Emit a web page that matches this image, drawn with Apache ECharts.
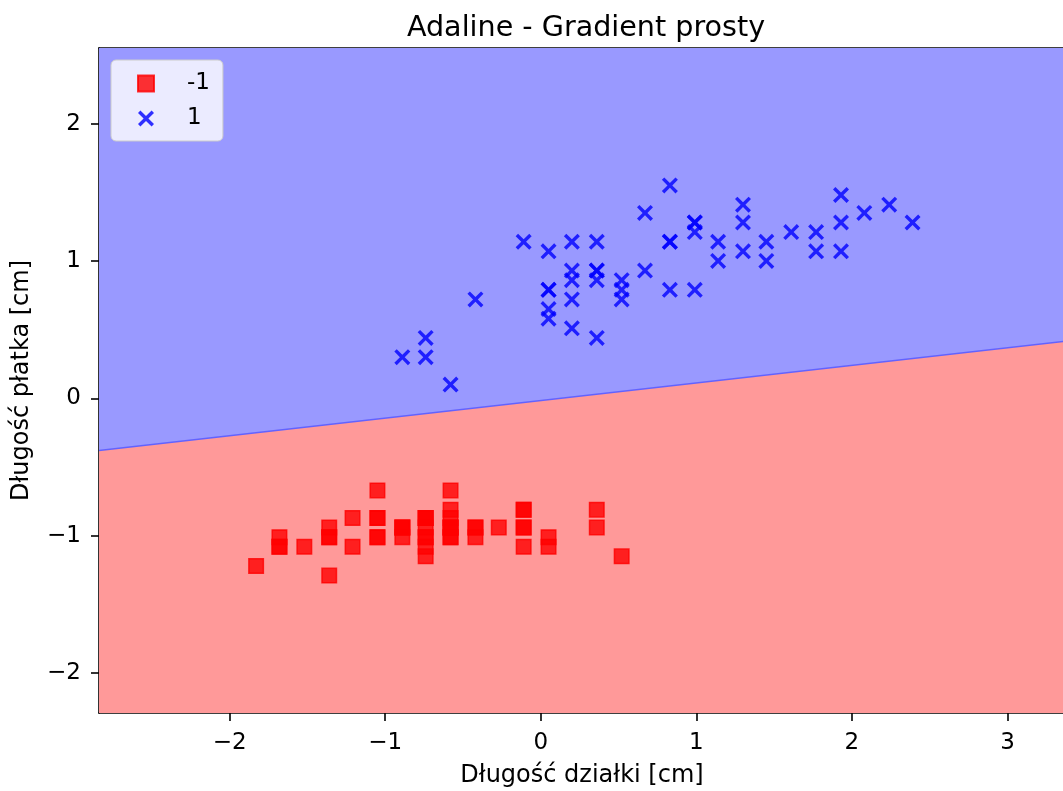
<!DOCTYPE html>
<html>
<head>
<meta charset="utf-8">
<title>Adaline - Gradient prosty</title>
<script src="https://cdn.jsdelivr.net/npm/echarts@6/dist/echarts.min.js"></script>
<style>
  html, body { margin: 0; padding: 0; background: #ffffff; }
  #chart { width: 1063px; height: 791px; }
</style>
</head>
<body>
<div id="chart"></div>
<script>
// Standardized features: sepal length (x) and petal length (y)
const classNeg1X = [-0.58,-0.89,-1.21,-1.36,-0.74,-0.11,-1.36,-0.74,-1.68,-0.89,-0.11,-1.05,-1.05,-1.83,0.52,0.36,-0.11,-0.58,0.36,-0.58,-0.11,-0.58,-1.36,-0.58,-1.05,-0.74,-0.74,-0.42,-0.42,-1.21,-1.05,-0.11,-0.42,0.05,-0.89,-0.74,0.05,-0.89,-1.68,-0.58,-0.74,-1.52,-1.68,-0.74,-0.58,-1.05,-0.58,-1.36,-0.27,-0.74];
const classNeg1Y = [-1.01,-1.01,-1.08,-0.94,-1.01,-0.81,-1.01,-0.94,-1.01,-0.94,-0.94,-0.87,-1.01,-1.22,-1.15,-0.94,-1.08,-1.01,-0.81,-0.94,-0.81,-0.94,-1.29,-0.81,-0.67,-0.87,-0.87,-0.94,-1.01,-0.87,-0.87,-0.94,-0.94,-1.01,-0.94,-1.15,-1.08,-0.94,-1.08,-0.94,-1.08,-1.08,-1.08,-0.87,-0.67,-1.01,-0.87,-1.01,-0.94,-1.01];

const classPos1X = [2.39,1.45,2.24,0.05,1.61,0.36,1.30,-0.89,1.77,-0.42,-0.74,0.67,0.83,0.99,0.20,1.93,0.20,0.52,1.14,0.20,0.67,0.99,1.30,0.99,1.45,1.77,2.08,1.93,0.83,0.36,0.05,0.05,0.52,0.83,-0.11,0.83,1.93,1.30,0.20,0.05,0.05,0.99,0.52,-0.74,0.20,0.36,0.36,1.14,-0.58,0.36];
const classPos1Y = [1.28,1.14,1.41,0.79,1.21,1.14,1.28,0.30,1.21,0.72,0.44,0.93,0.79,1.28,0.51,1.07,1.14,0.86,1.14,0.72,1.35,0.79,1.41,1.28,1.00,1.07,1.35,1.48,1.14,0.44,0.65,0.58,0.72,1.55,1.14,1.14,1.28,1.07,0.86,0.79,1.07,1.21,0.79,0.30,0.93,0.93,0.93,1.00,0.10,0.86];

// Decision boundary of the trained Adaline (end points across the plotted range)
const boundaryX = [-2.84, 3.37];
const boundaryY = [-0.38, 0.415];

// Axis ranges and tick labels
const xRange = [-2.84, 3.37];
const yRange = [-2.29, 2.55];
const xTicks = [-2, -1, 0, 1, 2, 3];
const yTicks = [-2, -1, 0, 1, 2];

const classLabels = ['-1', '1'];

const FONT = 'DejaVu Sans';
const zip = (xs, ys) => xs.map((x, i) => [x, ys[i]]);
const minusSign = v => String(v).replace('-', '\u2212');

// thick "x" marker drawn as a filled outline
const xMarker = 'path://M0,1.5L1.5,0L5,3.5L8.5,0L10,1.5L6.5,5L10,8.5L8.5,10L5,6.5L1.5,10L0,8.5L3.5,5Z';

const chart = echarts.init(document.getElementById('chart'), null, { renderer: 'canvas' });

const axisCommon = {
  type: 'value',
  splitLine: { show: false },
  axisLine: { show: true, onZero: false, lineStyle: { color: '#000', width: 1.6 } },
  axisTick: { show: true, inside: false, length: 8, lineStyle: { color: '#000', width: 1.6 } },
  nameTextStyle: { fontFamily: FONT, fontSize: 24, color: '#000' }
};

chart.setOption({
  animation: false,
  backgroundColor: '#ffffff',
  title: {
    text: 'Adaline - Gradient prosty',
    left: 581,
    textAlign: 'center',
    top: 9,
    textStyle: { fontFamily: FONT, fontSize: 28.6, fontWeight: 'normal', color: '#000' }
  },
  grid: { left: 99, right: -2, top: 48, bottom: 78, containLabel: false, outerBoundsMode: 'none' },
  legend: {
    data: classLabels,
    orient: 'vertical',
    left: 111,
    top: 60,
    padding: [12, 13, 11, 26],
    itemWidth: 16,
    itemHeight: 16,
    itemGap: 12,
    backgroundColor: 'rgba(255,255,255,0.8)',
    borderColor: '#cccccc',
    borderWidth: 1,
    borderRadius: 5,
    textStyle: { fontFamily: FONT, fontSize: 23, color: '#000', padding: [0, 0, 0, 28] }
  },
  xAxis: [
    Object.assign({}, axisCommon, {
      min: xRange[0], max: xRange[1],
      position: 'bottom',
      name: 'Długość działki [cm]',
      nameLocation: 'middle',
      nameGap: 51,
      axisTick: Object.assign({}, axisCommon.axisTick, { customValues: xTicks }),
      axisLabel: {
        customValues: xTicks, margin: 19,
        fontFamily: FONT, fontSize: 23, color: '#000',
        formatter: minusSign
      }
    }),
    {
      type: 'value', min: xRange[0], max: xRange[1], position: 'top',
      axisLine: { show: true, onZero: false, lineStyle: { color: '#000', width: 1.6 } },
      axisTick: { show: false }, axisLabel: { show: false }, splitLine: { show: false }
    }
  ],
  yAxis: Object.assign({}, axisCommon, {
    min: yRange[0], max: yRange[1],
    name: 'Długość płatka [cm]',
    nameLocation: 'middle',
    nameGap: 65,
    axisTick: Object.assign({}, axisCommon.axisTick, { customValues: yTicks }),
    axisLabel: {
      customValues: yTicks, margin: 18,
      fontFamily: FONT, fontSize: 23, color: '#000',
      formatter: minusSign
    }
  }),
  series: [
    {
      name: 'region -1',
      type: 'line',
      data: zip(boundaryX, boundaryY),
      symbol: 'none',
      silent: true,
      lineStyle: { width: 0 },
      areaStyle: { color: '#ff9999', opacity: 1, origin: 'start' },
      z: 1
    },
    {
      name: 'region 1',
      type: 'line',
      data: zip(boundaryX, boundaryY),
      symbol: 'none',
      silent: true,
      lineStyle: { width: 1.5, color: '#6262ff' },
      areaStyle: { color: '#9999ff', opacity: 1, origin: 'end' },
      z: 2
    },
    {
      name: classLabels[0],
      type: 'scatter',
      data: zip(classNeg1X, classNeg1Y),
      symbol: 'rect',
      symbolSize: 14.5,
      itemStyle: { color: 'rgba(255,0,0,0.8)', borderColor: 'rgba(255,0,0,0.8)', borderWidth: 1.5, opacity: 1 },
      emphasis: { disabled: true },
      z: 3
    },
    {
      name: classLabels[1],
      type: 'scatter',
      data: zip(classPos1X, classPos1Y),
      symbol: xMarker,
      symbolSize: 16,
      itemStyle: { color: 'rgba(0,0,255,0.8)', opacity: 1 },
      emphasis: { disabled: true },
      z: 4
    }
  ]
});
</script>
</body>
</html>
